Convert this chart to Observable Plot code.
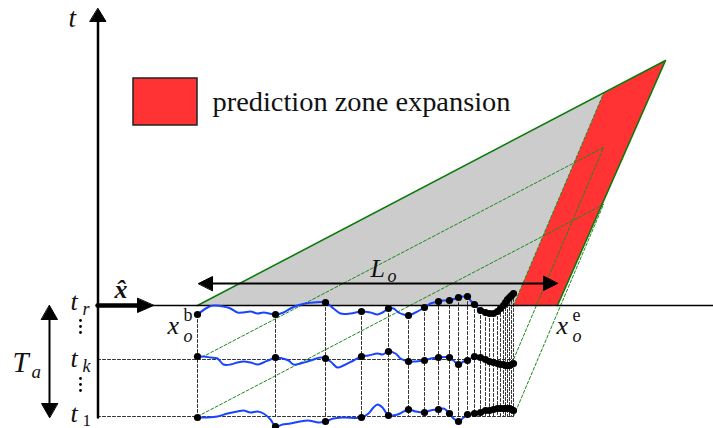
<!DOCTYPE html>
<html><head><meta charset="utf-8">
<script src="https://cdn.jsdelivr.net/npm/d3@7"></script>
<script src="https://cdn.jsdelivr.net/npm/@observablehq/plot@0.6"></script>
<style>body{margin:0;background:#fff}#chart svg{display:block}</style>
</head><body><div id="chart"></div>
<script>
// ---------- data (diagram units) ----------
const sampleX = [197,275,325,361,388,408,424,438,449,458,467,474,480,485,489,493,497,500,503,505,507,509,511,513];
const dotsR  = [314,314,302,311,308,315,307,301,300,297,296,304,310,312,313,313,311,308,305,302,299,297,295,293];
const dotsK  = [356,357,358,356,351,361,360,357,357,364,360,356,357,359,361,362,363,364,364,365,365,365,364,363];
const dots1  = [417,426,421,417,415,409,412,409,413,421,414,413,412,410,410,409,408,408,408,408,408,408,409,410];

const blueRx = [197,207,213,223,230,237,243,250,257,263,275,283,290,297,305,313,325,333,340,350,361,370,377,382,388,393,398,403,408,413,424,430,438,443,449,458,463,467,470,474,480,485,489,493,497,500,503,505,507,509,511,513];
const blueRy = [314,307,305,306,308,312,312,311,313,312,314,312,308,305,303,302,302,308,313,313,311,312,314,312,308,308,312,314,315,313,307,303,301,300,300,297,296,296,300,304,310,312,313,313,311,308,305,302,299,297,295,293];
const blueKx = [197,203,210,217,223,230,237,243,250,257,263,270,275,282,288,293,300,307,313,320,325,330,337,343,353,361,368,377,382,388,395,400,408,415,424,430,438,449,453,458,463,467,474,480,485,489,493,497,500,503,505,507,509,511,513];
const blueKy = [356,356,357,358,364,364,362,361,362,364,362,359,357,358,360,364,363,361,359,357,358,361,367,365,360,356,355,353,354,351,353,358,361,361,360,358,357,357,360,364,361,360,356,357,359,361,362,363,364,364,365,365,365,364,363];
const blue1x = [197,207,217,227,237,243,250,257,263,270,275,282,290,307,318,325,333,343,361,368,373,377,382,388,397,408,415,424,430,438,443,449,453,458,463,467,474,480,485,490,500,510,513];
const blue1y = [417,417,416,413,411,410,412,411,413,419,426,424,423,420,422,421,418,417,417,413,407,404,407,415,414,409,411,412,410,409,408,413,418,421,417,414,413,412,410,409,408,409,410];

const levelY = [305,359,416];
const originX = 197, endX = 513, apexX = 603, rise = 212;
const outerTip = [665,60], outerBase = 557;
const legendLabel = "prediction zone expansion";

// ---------- geometry built from data ----------
const W = 713, H = 428;
const polys = [];
function poly(id, pts){ pts.forEach(p => polys.push({id, x:p[0], y:p[1]})); }
poly("gray", [[originX,levelY[0]],[apexX,levelY[0]-rise],[endX,levelY[0]]]);
poly("red",  [[endX,levelY[0]],[apexX,levelY[0]-rise],outerTip,[outerBase,levelY[0]]]);

const greenSolid = [{x:originX,y:levelY[0]},{x:outerTip[0],y:outerTip[1]},{x:outerBase,y:levelY[0]}];
const greenDashed = [];
levelY.forEach((y0,i) => {
  const pts = i === 0 ? [[endX,y0],[apexX,y0-rise]] : [[originX,y0],[apexX,y0-rise],[endX,y0]];
  pts.forEach(p => greenDashed.push({id:i, x:p[0], y:p[1]}));
});

const hDashed = [];
[1,2].forEach(i => { hDashed.push({id:i,x:97,y:levelY[i]}, {id:i,x:endX,y:levelY[i]}); });
const vDashed = [];
sampleX.forEach((x,i) => { vDashed.push({id:i,x,y:dotsR[i]},{id:i,x,y:levelY[2]}); });

const blue = [];
[[blueRx,blueRy],[blueKx,blueKy],[blue1x,blue1y]].forEach(([xs,ys],j) => xs.forEach((x,i)=>blue.push({id:j,x,y:ys[i]})));
const dots = [];
[dotsR,dotsK,dots1].forEach(ys => ys.forEach((y,i)=>dots.push({x:sampleX[i],y})));

// arrows: shaft + filled heads
const shafts = [], heads = [];
function head(id, tip, dir, len, hw){
  const [dx,dy] = dir, bx = tip[0]-dx*len, by = tip[1]-dy*len;
  heads.push({id,x:tip[0],y:tip[1]},{id,x:bx-dy*hw,y:by+dx*hw},{id,x:bx+dy*hw,y:by-dx*hw});
}
shafts.push({id:"t",w:2.5,x:97.5,y:417},{id:"t",w:2.5,x:97.5,y:16});
head("t",[97.5,8],[0,-1],13,8);
shafts.push({id:"xh",w:4.5,x:97,y:305},{id:"xh",w:4.5,x:140,y:305});
head("xh",[153,305],[1,0],16,7);
shafts.push({id:"ta",w:2,x:49,y:318},{id:"ta",w:2,x:49,y:404});
head("ta1",[49,305],[0,-1],14,8); head("ta2",[49,417],[0,1],14,8);
shafts.push({id:"lo",w:1.8,x:208,y:283},{id:"lo",w:1.8,x:546,y:283});
head("lo1",[198,283],[-1,0],14,7); head("lo2",[557,283],[1,0],14,7);

const vdots = [320,326,332,378,384,390].map(y=>({x:80,y}));

// labels
const italic = [
  {t:"t",x:68,y:26,s:27},
  {t:"t",x:70,y:309,s:26},{t:"r",x:82,y:314,s:18},
  {t:"t",x:70,y:366,s:26},{t:"k",x:82,y:371,s:18},
  {t:"t",x:70,y:421,s:26},
  {t:"T",x:12,y:371,s:29},{t:"a",x:31,y:377,s:19},
  {t:"x",x:167,y:333,s:26},{t:"o",x:183,y:341,s:18},
  {t:"x",x:556,y:333,s:26},{t:"o",x:572,y:341,s:18},
  {t:"L",x:370,y:276,s:26},{t:"o",x:387,y:281,s:18}
];
const upright = [
  {t:"1",x:82,y:425,s:17},
  {t:"b",x:183,y:320,s:18},{t:"e",x:572,y:320,s:18},
  {t:legendLabel,x:212,y:110,s:27}
];
const boldItalic = [{t:"x̂",x:114,y:297,s:26}];
const legendBox = [{x1:133,x2:197,y1:78,y2:125}];

const font = "Liberation Serif";
const txt = (data, style, weight) => Plot.text(data, {x:"x",y:"y",text:"t",fontSize:"s",textAnchor:"start",lineAnchor:"bottom",fontFamily:font,fontStyle:style,fontWeight:weight,fill:"#111"});

const chart = Plot.plot({
  width: W, height: H, margin: 0,
  x: {domain:[0,W], range:[0,W], axis:null},
  y: {domain:[0,H], range:[0,H], axis:null},
  marks: [
    Plot.line(polys.filter(d=>d.id==="gray"), {x:"x",y:"y",curve:"linear-closed",fill:"#cccccc",stroke:"none"}),
    Plot.line(polys.filter(d=>d.id==="red"), {x:"x",y:"y",curve:"linear-closed",fill:"#ff3333",stroke:"none"}),
    Plot.line(greenDashed, {x:"x",y:"y",z:"id",stroke:"#1a8a1a",strokeWidth:1,strokeDasharray:"3,2"}),
    Plot.line(greenSolid, {x:"x",y:"y",stroke:"#0a7a0a",strokeWidth:1.6}),
    Plot.line(hDashed, {x:"x",y:"y",z:"id",stroke:"#333",strokeWidth:1,strokeDasharray:"3,2"}),
    Plot.line(vDashed, {x:"x",y:"y",z:"id",stroke:"#333",strokeWidth:1,strokeDasharray:"3,2"}),
    Plot.ruleY([305], {x1:97,x2:W,stroke:"#000",strokeWidth:1.3}),
    Plot.line(blue, {x:"x",y:"y",z:"id",stroke:"#1a45ff",strokeWidth:2,curve:"catmull-rom"}),
    Plot.dot(dots, {x:"x",y:"y",r:3.6,fill:"#000",stroke:"none"}),
    Plot.line(shafts.filter(d=>d.w===2.5), {x:"x",y:"y",z:"id",stroke:"#000",strokeWidth:2.5}),
    Plot.line(shafts.filter(d=>d.w===4.5), {x:"x",y:"y",z:"id",stroke:"#000",strokeWidth:4.5}),
    Plot.line(shafts.filter(d=>d.w===2), {x:"x",y:"y",z:"id",stroke:"#000",strokeWidth:2}),
    Plot.line(shafts.filter(d=>d.w===1.8), {x:"x",y:"y",z:"id",stroke:"#000",strokeWidth:1.8}),
    Plot.line(heads, {x:"x",y:"y",z:"id",curve:"linear-closed",fill:"#000",stroke:"#000",strokeWidth:1}),
    Plot.dot(vdots, {x:"x",y:"y",r:1.4,fill:"#000"}),
    Plot.rect(legendBox, {x1:"x1",x2:"x2",y1:"y1",y2:"y2",fill:"#ff3333",stroke:"#222",strokeWidth:1.5}),
    txt(italic,"italic","normal"),
    txt(upright,"normal","normal"),
    txt(boldItalic,"italic","bold")
  ]
});
d3.select(chart).selectAll("text")
  .attr("font-family", font)
  .filter(function(){return this.textContent===legendLabel;})
  .attr("textLength",298).attr("lengthAdjust","spacingAndGlyphs");
document.getElementById("chart").appendChild(chart);
</script></body></html>
